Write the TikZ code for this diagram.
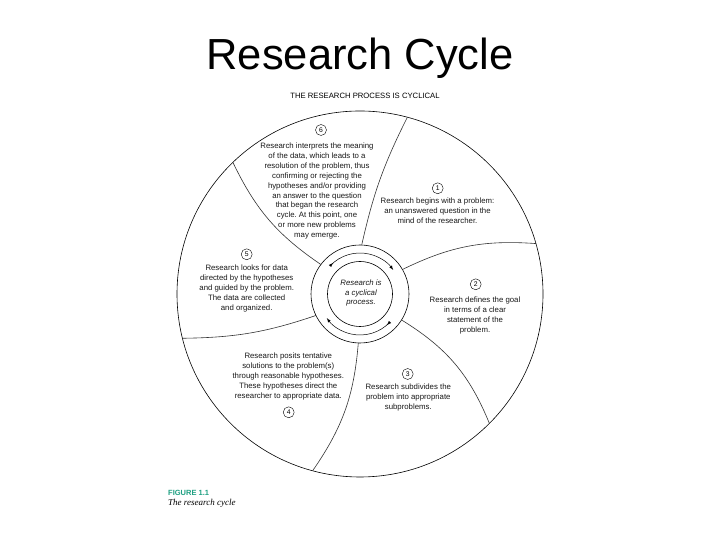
\documentclass[tikz,border=0pt]{standalone}
\usepackage{fontspec}
\setmainfont{Liberation Sans}
\newfontfamily\capserif{Liberation Serif}
\usepackage{tikz}
\usetikzlibrary{arrows}
\frenchspacing

\newcommand{\stagefont}{\fontsize{7.8}{9.9}\selectfont}

\begin{document}
\begin{tikzpicture}[x=1pt, y=1pt,
			>=latex,   % arrow tips
			stage/.style={align=center, font=\stagefont, inner sep=0pt, anchor=north, text=black!90},
			num/.style={circle, draw, thin, minimum size=11pt, inner sep=0pt, font=\fontsize{6.8}{7}\selectfont},
			spoke/.style={line width=0.6pt, black!80},
			cyc/.style={line width=0.5pt, latex reversed-latex}]
			% page
			\fill[white] (0,0) rectangle (720,540);
			\useasboundingbox (0,0) rectangle (720,540);
			% titles
			\node[anchor=base, font=\fontsize{43.5}{46}\selectfont] (title) at (360,470) {Research Cycle};
			\node[anchor=base, font=\fontsize{7.7}{9}\selectfont] (subtitle) at (365,441) {THE RESEARCH PROCESS IS CYCLICAL};
			% wheel and hub
			\coordinate (hub) at (360,246);
			\node[circle, draw, line width=0.6pt, minimum size=366pt, inner sep=0pt, outer sep=0pt] (wheel) at (hub) {};
			\node[circle, draw, line width=0.6pt, minimum size=98pt, inner sep=0pt, outer sep=0pt] (ring) at (hub) {};
			\node[circle, draw, line width=0.6pt, minimum size=65pt, inner sep=0pt, outer sep=0pt] (core) at (hub) {};
			% arrows in the ring
			\draw[cyc] (hub) ++(137:41) arc (137:36:41);
			\draw[cyc] (hub) ++(317:41) arc (317:216:41);
			% spokes
			\draw[spoke] (ring.88)  to[bend left=7]  (wheel.75);
			\draw[spoke] (ring.30)  to[bend left=15] (wheel.16);
			\draw[spoke] (ring.-32) to[bend left=18] (wheel.-45);
			\draw[spoke] (ring.-92) to[bend left=15] (wheel.-105);
			\draw[spoke] (ring.206) to[bend left=9]  (wheel.194);
			\draw[spoke] (ring.143) to[bend left=15] (wheel.134);
			% centre text
			\node[stage, font=\stagefont\itshape] (cycle) at (361,260.7) {Research is\\a cyclical\\process.};
			% stages
			\node[num] (n1) at (437.7,351.7) {1};
			\node[stage] (s1) at (437.5,342.3) {Research begins with a problem:\\an unanswered question in the\\mind of the researcher.};
			\node[num] (n2) at (475.7,255.7) {2};
			\node[stage] (s2) at (475,243.3) {Research defines the goal\\in terms of a clear\\statement of the\\problem.};
			\node[num] (n3) at (407.7,166) {3};
			\node[stage] (s3) at (408.3,156.3) {Research subdivides the\\problem into appropriate\\subproblems.};
			\node[stage] (s4) at (288.3,187.3) {Research posits tentative\\solutions to the problem(s)\\through reasonable hypotheses.\\These hypotheses direct the\\researcher to appropriate data.};
			\node[num] (n4) at (288.7,127.7) {4};
			\node[num] (n5) at (246.7,285.7) {5};
			\node[stage] (s5) at (246.7,275) {Research looks for data\\directed by the hypotheses\\and guided by the problem.\\The data are collected\\and organized.};
			\node[num] (n6) at (321,410) {6};
			\node[stage] (s6) at (317,397.3) {Research interprets the meaning\\of the data, which leads to a\\resolution of the problem, thus\\confirming or rejecting the\\hypotheses and/or providing\\an answer to the question\\that began the research\\cycle. At this point, one\\or more new problems\\may emerge.};
			% caption
			\definecolor{figgreen}{RGB}{30,160,130}
			\node[anchor=base west, inner sep=0pt, text=figgreen, font=\fontsize{7.5}{9}\selectfont\bfseries] (fig) at (168,44.6) {FIGURE 1.1};
			\node[anchor=base west, inner sep=0pt, font=\fontsize{9}{11}\selectfont\capserif\itshape] (caption) at (168,34) {The research cycle};
		\end{tikzpicture}
\end{document}
